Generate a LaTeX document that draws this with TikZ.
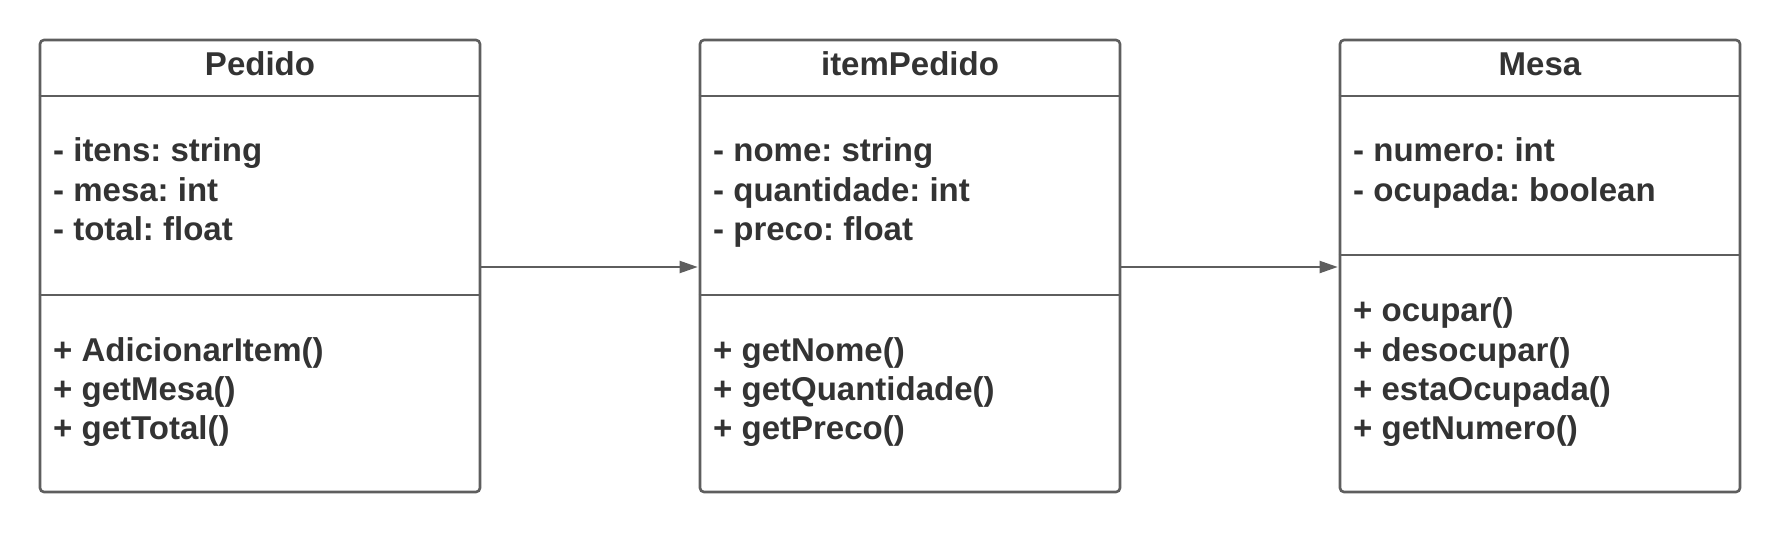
\documentclass[tikz,border=0pt]{standalone}
\usepackage{fontspec}
\setmainfont{Liberation Sans}
\usetikzlibrary{arrows.meta}
\definecolor{linegray}{HTML}{5E5E5E}
\definecolor{textgray}{HTML}{333333}
\frenchspacing
\tikzset{
  classbox/.style={draw=linegray, line width=2.6pt, rounded corners=4pt, fill=white, inner sep=0pt},
  divider/.style={draw=linegray, line width=2.6pt},
  txt/.style={anchor=base west, inner sep=0pt, text=textgray, font=\fontsize{33}{39}\selectfont\bfseries},
  ttl/.style={anchor=base, inner sep=0pt, text=textgray, font=\fontsize{33}{39}\selectfont\bfseries},
  conn/.style={draw=linegray, line width=2pt, -{Triangle[length=18pt,width=12pt]}, shorten >=1pt}
}
\begin{document}
\begin{tikzpicture}[x=1pt,y=-1pt]
\useasboundingbox (0,0) rectangle (1780,533);
% boxes
\node[classbox, minimum width=440pt, minimum height=452pt] (pedido) at (260,266) {};
\node[classbox, minimum width=420pt, minimum height=452pt] (item) at (910,266) {};
\node[classbox, minimum width=400pt, minimum height=452pt] (mesa) at (1540,266) {};
% dividers
\draw[divider] (pedido.west |- 0,96) -- (pedido.east |- 0,96);
\draw[divider] (pedido.west |- 0,295) -- (pedido.east |- 0,295);
\draw[divider] (item.west |- 0,96) -- (item.east |- 0,96);
\draw[divider] (item.west |- 0,295) -- (item.east |- 0,295);
\draw[divider] (mesa.west |- 0,96) -- (mesa.east |- 0,96);
\draw[divider] (mesa.west |- 0,255) -- (mesa.east |- 0,255);
% titles
\node[ttl] (t1) at (260,75) {Pedido};
\node[ttl] (t2) at (910,75) {itemPedido};
\node[ttl] (t3) at (1540,75) {Mesa};
% Pedido
\node[txt] (p1) at (53,161) {- itens: string};
\node[txt] (p2) at (53,201) {- mesa: int};
\node[txt] (p3) at (53,240) {- total: float};
\node[txt] (p4) at (53,361) {+ AdicionarItem()};
\node[txt] (p5) at (53,400) {+ getMesa()};
\node[txt] (p6) at (53,439) {+ getTotal()};
% itemPedido
\node[txt] (i1) at (713,161) {- nome: string};
\node[txt] (i2) at (713,201) {- quantidade: int};
\node[txt] (i3) at (713,240) {- preco: float};
\node[txt] (i4) at (713,361) {+ getNome()};
\node[txt] (i5) at (713,400) {+ getQuantidade()};
\node[txt] (i6) at (713,439) {+ getPreco()};
% Mesa
\node[txt] (m1) at (1353,161) {- numero: int};
\node[txt] (m2) at (1353,201) {- ocupada: boolean};
\node[txt] (m3) at (1353,321) {+ ocupar()};
\node[txt] (m4) at (1353,361) {+ desocupar()};
\node[txt] (m5) at (1353,400) {+ estaOcupada()};
\node[txt] (m6) at (1353,439) {+ getNumero()};
% connectors
\draw[conn] (pedido.east |- 0,267) -- (item.west |- 0,267);
\draw[conn] (item.east |- 0,267) -- (mesa.west |- 0,267);
\end{tikzpicture}
\end{document}
